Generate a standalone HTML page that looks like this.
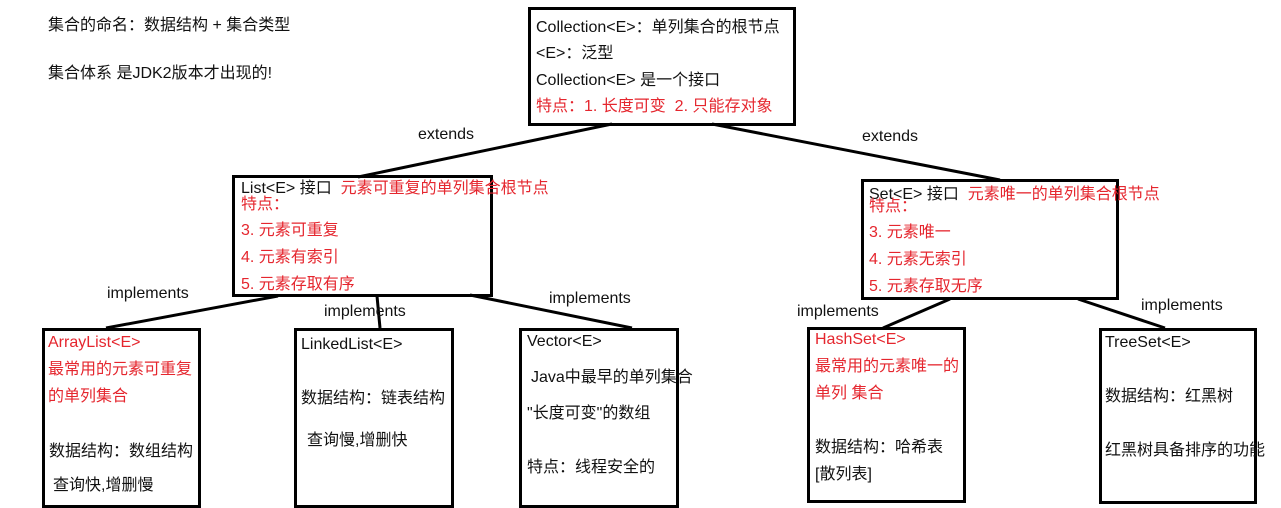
<!DOCTYPE html>
<html><head><meta charset="utf-8"><style>
body{margin:0;width:1281px;height:504px;background:#fff;position:relative;overflow:hidden;font-family:"Liberation Sans","Noto Sans CJK SC",sans-serif;font-size:16px;color:#111}
.b{position:absolute;border:3px solid #000;box-sizing:border-box}
.t{position:absolute;white-space:nowrap;line-height:18px}
.r{color:#e5262e}
svg{position:absolute;left:0;top:0}
</style></head><body>
<svg width="1281" height="504"><g stroke="#000" stroke-width="3" fill="none">
<line x1="612" y1="124" x2="358" y2="177"/>
<line x1="712" y1="124" x2="1000" y2="180"/>
<line x1="278" y1="296" x2="106" y2="328"/>
<line x1="377" y1="296" x2="380" y2="328"/>
<line x1="470" y1="295" x2="632" y2="328"/>
<line x1="950" y1="299" x2="883" y2="328"/>
<line x1="1078" y1="299" x2="1165" y2="328"/>
</g></svg>
<div class="t" style="left:48px;top:17px">集合的命名：数据结构 + 集合类型</div>
<div class="t" style="left:48px;top:65px">集合体系 是JDK2版本才出现的!</div>

<div class="b" style="left:528px;top:7px;width:268px;height:119px"></div>
<div class="t" style="left:536px;top:19px">Collection&lt;E&gt;：单列集合的根节点</div>
<div class="t" style="left:536px;top:45px">&lt;E&gt;：泛型</div>
<div class="t" style="left:536px;top:72px">Collection&lt;E&gt; 是一个接口</div>
<div class="t r" style="left:536px;top:98px">特点：1. 长度可变&nbsp; 2. 只能存对象</div>
<div class="t" style="left:418px;top:126px">extends</div>
<div class="t" style="left:862px;top:128px">extends</div>

<div class="b" style="left:232px;top:175px;width:261px;height:122px"></div>
<div class="t" style="left:241px;top:180px">List&lt;E&gt; 接口 <span class="r">&nbsp;元素可重复的单列集合根节点</span></div>
<div class="t r" style="left:241px;top:196px">特点：</div>
<div class="t r" style="left:241px;top:222px">3. 元素可重复</div>
<div class="t r" style="left:241px;top:249px">4. 元素有索引</div>
<div class="t r" style="left:241px;top:276px">5. 元素存取有序</div>

<div class="b" style="left:861px;top:179px;width:258px;height:121px"></div>
<div class="t" style="left:869px;top:186px">Set&lt;E&gt; 接口 <span class="r">&nbsp;元素唯一的单列集合根节点</span></div>
<div class="t r" style="left:869px;top:198px">特点：</div>
<div class="t r" style="left:869px;top:224px">3. 元素唯一</div>
<div class="t r" style="left:869px;top:251px">4. 元素无索引</div>
<div class="t r" style="left:869px;top:278px">5. 元素存取无序</div>

<div class="t" style="left:107px;top:285px">implements</div>
<div class="t" style="left:324px;top:303px">implements</div>
<div class="t" style="left:549px;top:290px">implements</div>
<div class="t" style="left:797px;top:303px">implements</div>
<div class="t" style="left:1141px;top:297px">implements</div>

<div class="b" style="left:42px;top:328px;width:159px;height:180px"></div>
<div class="t r" style="left:48px;top:334px">ArrayList&lt;E&gt;</div>
<div class="t r" style="left:48px;top:361px">最常用的元素可重复</div>
<div class="t r" style="left:48px;top:388px">的单列集合</div>
<div class="t" style="left:49px;top:443px">数据结构：数组结构</div>
<div class="t" style="left:53px;top:477px">查询快,增删慢</div>

<div class="b" style="left:294px;top:328px;width:160px;height:180px"></div>
<div class="t" style="left:301px;top:336px">LinkedList&lt;E&gt;</div>
<div class="t" style="left:301px;top:390px">数据结构：链表结构</div>
<div class="t" style="left:307px;top:432px">查询慢,增删快</div>

<div class="b" style="left:519px;top:328px;width:160px;height:180px"></div>
<div class="t" style="left:527px;top:333px">Vector&lt;E&gt;</div>
<div class="t" style="left:531px;top:369px">Java中最早的单列集合</div>
<div class="t" style="left:527px;top:405px">"长度可变"的数组</div>
<div class="t" style="left:527px;top:459px">特点：线程安全的</div>

<div class="b" style="left:807px;top:327px;width:159px;height:176px"></div>
<div class="t r" style="left:815px;top:331px">HashSet&lt;E&gt;</div>
<div class="t r" style="left:815px;top:358px">最常用的元素唯一的</div>
<div class="t r" style="left:815px;top:385px">单列 集合</div>
<div class="t" style="left:815px;top:439px">数据结构：哈希表</div>
<div class="t" style="left:815px;top:466px">[散列表]</div>

<div class="b" style="left:1099px;top:328px;width:158px;height:176px"></div>
<div class="t" style="left:1105px;top:334px">TreeSet&lt;E&gt;</div>
<div class="t" style="left:1105px;top:388px">数据结构：红黑树</div>
<div class="t" style="left:1105px;top:442px">红黑树具备排序的功能</div>
</body></html>
